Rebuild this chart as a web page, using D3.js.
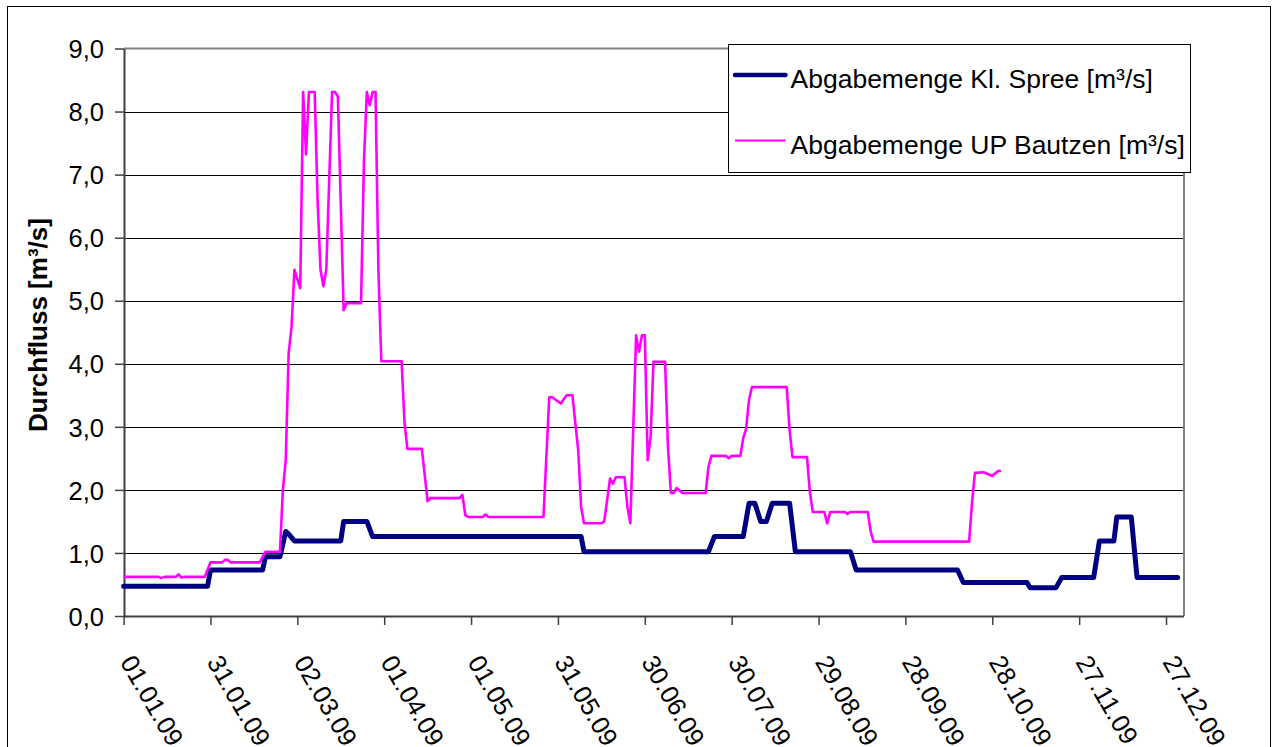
<!doctype html>
<html>

<head>
	<meta charset="UTF-8" />
	<script src="https://d3js.org/d3.v7.min.js"></script>
	<style>
		body { margin: 0; background: #fff; }
		svg { display: block; font-family: "Liberation Sans", Arial, sans-serif; }
	</style>
</head>

<body>
	<svg id="chart" width="1272" height="747"></svg>

	<script>
		(function () {

			"use strict"

			// Day of year 2009 (0 = 01.01.09) and flow in m³/s
			const spreeDay = [0, 29, 30, 48, 49, 54, 56, 57, 59, 75, 76, 84, 86, 158, 159, 202, 204, 214, 216, 218, 220, 222, 224, 230, 232,
				251, 253, 288, 290, 312, 313, 322, 324, 335, 337, 342, 343, 348, 350, 364];
			const spreeValue = [0.47, 0.47, 0.73, 0.73, 0.94, 0.94, 1.34, 1.30, 1.19, 1.19, 1.50, 1.50, 1.26, 1.26, 1.02, 1.02, 1.26, 1.26, 1.79, 1.79, 1.50, 1.50, 1.79, 1.79, 1.02,
				1.02, 0.73, 0.73, 0.53, 0.53, 0.45, 0.45, 0.61, 0.61, 1.19, 1.19, 1.57, 1.57, 0.61, 0.61];

			const bautzenDay = [0, 12, 13, 14, 18, 19, 20, 21, 28, 30, 34, 35, 36, 37, 47, 49, 54, 55, 56, 57, 58, 59, 61, 62, 63, 64, 66, 67, 68, 69, 70,
				72, 73, 74, 76, 77, 82, 83, 84, 85, 86, 87, 88, 89, 96, 97, 98, 103, 105, 106, 116, 117, 118, 119, 124, 125, 126, 145,
				147, 148, 151, 153, 155, 157, 158, 159, 165, 166, 168, 169, 170, 173, 174, 175, 177, 178, 179, 180, 181, 182, 183, 187,
				188, 189, 190, 191, 193, 201, 202, 203, 208, 209, 210, 213, 214, 215, 216, 217, 229, 230, 231, 236, 237, 238, 242, 243,
				244, 249, 250, 251, 257, 258, 259, 292, 293, 294, 297, 300, 302, 303];
			const bautzenValue = [0.62, 0.62, 0.60, 0.62, 0.62, 0.66, 0.61, 0.62, 0.62, 0.85, 0.85, 0.89, 0.89, 0.85, 0.85, 1.02, 1.02, 2.00, 2.47, 4.17, 4.58, 5.49, 5.20, 8.31, 7.32, 8.31, 8.31, 6.59, 5.49, 5.23, 5.49,
				8.31, 8.31, 8.24, 4.85, 4.96, 4.96, 7.20, 8.31, 8.10, 8.31, 8.31, 5.48, 4.04, 4.04, 3.08, 2.65, 2.65, 1.82, 1.87, 1.87, 1.92, 1.60, 1.57, 1.57, 1.61, 1.57, 1.57,
				3.47, 3.47, 3.37, 3.50, 3.50, 2.63, 1.73, 1.47, 1.47, 1.50, 2.18, 2.10, 2.20, 2.20, 1.73, 1.47, 4.45, 4.19, 4.45, 4.45, 2.47, 2.84, 4.03, 4.03,
				2.68, 1.95, 1.95, 2.03, 1.95, 1.95, 2.37, 2.54, 2.54, 2.50, 2.54, 2.54, 2.82, 2.97, 3.43, 3.63, 3.63, 2.95, 2.52, 2.52, 1.97, 1.65, 1.65, 1.47,
				1.65, 1.65, 1.62, 1.65, 1.65, 1.34, 1.18, 1.18, 1.79, 2.27, 2.28, 2.22, 2.30, 2.30];

			const seriesNames = ["Abgabemenge Kl. Spree [m³/s]", "Abgabemenge UP Bautzen [m³/s]"];
			const seriesColors = ["#000080", "#ff00ff"];
			const yTicks = [0, 1, 2, 3, 4, 5, 6, 7, 8, 9];
			const xTickDays = [0, 30, 60, 90, 120, 150, 180, 210, 240, 270, 300, 330, 360];
			const yTitle = "Durchfluss [m³/s]";

			const svg = d3.select("#chart");
			const start = new Date(Date.UTC(2009, 0, 1));
			const toDate = function (d) { return d3.utcDay.offset(start, d); };

			const plot = { left: 124, right: 1184, top: 48.5, bottom: 616 };

			const x = d3.scaleUtc()
				.domain([start, toDate(366)])
				.range([123.6, 1183.4]);
			const y = d3.scaleLinear()
				.domain([0, 9])
				.range([plot.bottom, plot.top]);

			const de = d3.formatLocale({ decimal: ",", thousands: ".", grouping: [3], currency: ["", " €"] });
			const yFormat = de.format(".1f");
			const xFormat = d3.utcFormat("%d.%m.%y");

			// outer chart frame
			svg.append("rect")
				.attr("x", 7.5).attr("y", 6.5)
				.attr("width", 1263).attr("height", 780)
				.attr("fill", "#fff")
				.attr("stroke", "#000").attr("stroke-width", 1);

			// gridlines (crisp black like excel)
			svg.append("g")
				.attr("transform", "translate(" + plot.left + ",0)")
				.attr("shape-rendering", "crispEdges")
				.call(d3.axisLeft(y).tickValues(yTicks.slice(1, -1)).tickSize(-(plot.right - plot.left)).tickFormat(""))
				.call(function (g) { g.select(".domain").remove(); })
				.selectAll("line").attr("stroke", "#000").attr("stroke-width", 1);

			// plot area border top/right
			svg.append("path")
				.attr("d", "M" + plot.left + "," + plot.top + "H" + plot.right + "V" + plot.bottom)
				.attr("fill", "none").attr("stroke", "#808080").attr("stroke-width", 2);

			// y axis
			const yAxis = svg.append("g")
				.attr("transform", "translate(" + plot.left + ",0)")
				.call(d3.axisLeft(y).tickValues(yTicks).tickSize(9).tickSizeOuter(0).tickFormat(yFormat));
			yAxis.select(".domain").attr("stroke", "#404040").attr("stroke-width", 2);
			yAxis.selectAll(".tick line").attr("stroke", "#404040").attr("stroke-width", 1.5);
			yAxis.selectAll(".tick text")
				.attr("x", -20).attr("dy", "0.36em")
				.attr("font-size", 25.5).attr("fill", "#000");

			// x axis
			const xAxis = svg.append("g")
				.attr("transform", "translate(0," + plot.bottom + ")")
				.call(d3.axisBottom(x).tickValues(xTickDays.map(toDate)).tickSize(9).tickSizeOuter(0).tickFormat(xFormat));
			xAxis.select(".domain").attr("stroke", "#404040").attr("stroke-width", 2);
			xAxis.selectAll(".tick line").attr("stroke", "#404040").attr("stroke-width", 1.5);
			xAxis.selectAll(".tick text")
				.attr("y", 0).attr("dy", 0)
				.attr("text-anchor", "start")
				.attr("font-size", 25.5).attr("fill", "#000")
				.attr("transform", "translate(-4.6,46) rotate(60)");

			// axis title
			svg.append("text")
				.attr("transform", "translate(47,325) rotate(-90)")
				.attr("text-anchor", "middle")
				.attr("font-size", 26).attr("font-weight", "bold")
				.text(yTitle);

			// lines
			const line = d3.line()
				.x(function (d) { return x(toDate(d[0])); })
				.y(function (d) { return y(d[1]); });

			svg.append("path")
				.datum(d3.zip(spreeDay, spreeValue))
				.attr("d", line)
				.attr("fill", "none").attr("stroke", seriesColors[0]).attr("stroke-width", 5)
				.attr("stroke-linejoin", "round").attr("stroke-linecap", "round");

			svg.append("path")
				.datum(d3.zip(bautzenDay, bautzenValue))
				.attr("d", line)
				.attr("fill", "none").attr("stroke", seriesColors[1]).attr("stroke-width", 2.6)
				.attr("stroke-linejoin", "round");

			// legend
			const legend = svg.append("g").attr("transform", "translate(728.5,44.5)");
			legend.append("rect")
				.attr("width", 462).attr("height", 128)
				.attr("fill", "#fff").attr("stroke", "#000").attr("stroke-width", 1);

			const items = legend.selectAll("g.item")
				.data(seriesNames)
				.enter().append("g")
				.attr("class", "item")
				.attr("transform", function (d, i) { return "translate(0," + (30.5 + i * 65.5) + ")"; });

			items.append("line")
				.attr("x1", 6.5).attr("x2", 57)
				.attr("stroke", function (d, i) { return seriesColors[i]; })
				.attr("stroke-width", function (d, i) { return i === 0 ? 4.5 : 2.2; })
				.attr("stroke-linecap", function (d, i) { return i === 0 ? "round" : "butt"; });

			items.append("text")
				.attr("x", 62).attr("y", 13)
				.attr("font-size", 26.5)
				.text(function (d) { return d; });

		})();
	</script>
</body>

</html>
